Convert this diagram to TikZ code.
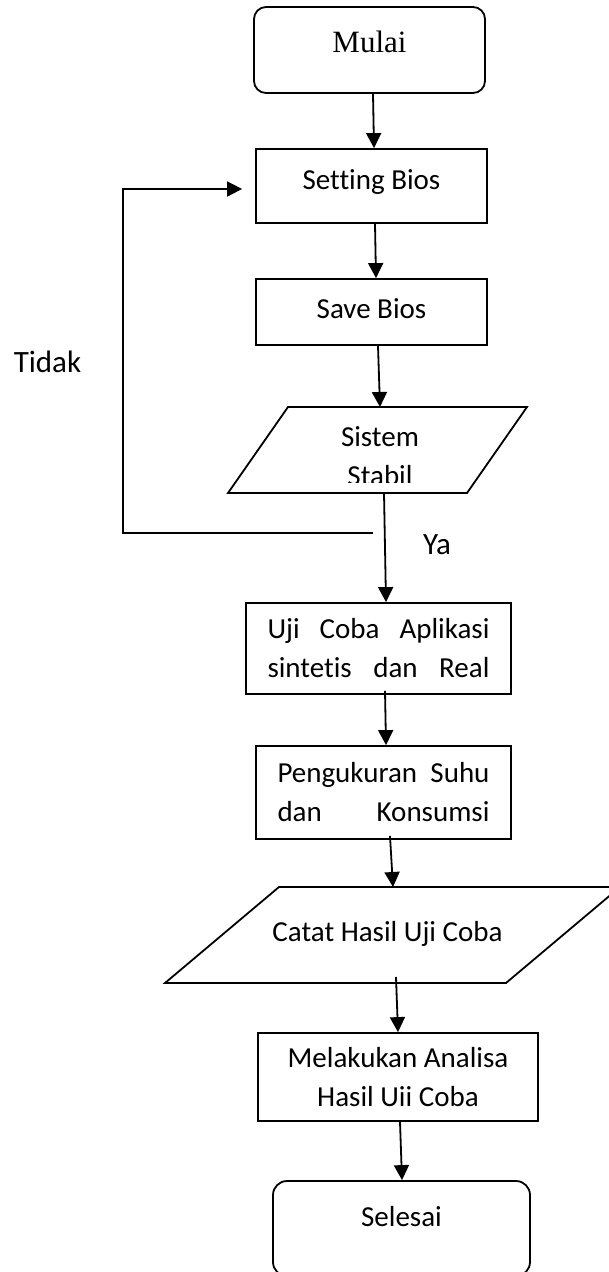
\documentclass[tikz,border=0pt]{standalone}
\usepackage{fontspec}
\setmainfont{Carlito}[Ligatures=NoCommon]
\newfontfamily\mulaifont{Liberation Serif}
\usetikzlibrary{calc,arrows.meta}

\begin{document}
\begin{tikzpicture}[x=1pt,y=-1pt,
    box/.style={draw, line width=1.8pt, inner sep=0pt, align=center, font=\fontsize{29}{39}\selectfont},
    flow/.style={line width=1.8pt, -{Triangle[length=15pt,width=15pt]}},
    edge/.style={line width=1.8pt},
    txt/.style={inner sep=0pt, align=center, font=\fontsize{29}{39}\selectfont},
    tag/.style={inner sep=0pt, font=\fontsize{31}{37}\selectfont}]
    \useasboundingbox (0,0) rectangle (609,1272);
    \clip (0,0) rectangle (609,1272);

    \node[box, rounded corners=12pt, minimum width=231pt, minimum height=86pt,
      label={[yshift=8pt, font=\mulaifont\fontsize{31}{37}\selectfont]center:Mulai}] (mulai) at (369.5,50) {};
    \node[box, minimum width=231pt, minimum height=74pt,
      label={[yshift=4pt, font=\fontsize{29}{39}\selectfont]center:Setting Bios}] (setting) at (371.5,186) {};
    \node[box, minimum width=231pt, minimum height=66pt,
      label={[yshift=3pt, font=\fontsize{29}{39}\selectfont]center:Save Bios}] (save) at (371.5,312) {};

    \coordinate (S1) at (288,407);
    \coordinate (S2) at (527,407);
    \coordinate (S3) at (467,493);
    \coordinate (S4) at (228,493);
    \coordinate (sistemtop) at (380,407);
    \coordinate (sistembot) at (384,493);
    \draw[edge] (S1) -- (S2) -- (S3) -- (S4) -- cycle;
    \begin{scope}
      \clip (228,407) rectangle (527,482);
      \node[txt] (sistem) at (380,456) {Sistem\\Stabil};
    \end{scope}

    \node[box, minimum width=265pt, minimum height=91pt] (uji) at (378.5,648.5)
      {\makebox[222pt][s]{Uji Coba Aplikasi}\\\makebox[222pt][s]{sintetis dan Real}};
    \node[box, minimum width=255pt, minimum height=93pt] (peng) at (383.5,792.5)
      {\makebox[212pt][s]{Pengukuran Suhu}\\\makebox[212pt][s]{dan Konsumsi}};

    \coordinate (C1) at (279,887);
    \coordinate (C2) at (620,887);
    \coordinate (C3) at (506,983);
    \coordinate (C4) at (165,983);
    \coordinate (catattop) at (393,887);
    \coordinate (catatbot) at (396,977);
    \draw[edge] (C1) -- (C2) -- (C3) -- (C4) -- cycle;
    \node[txt] (catat) at (387.5,934) {Catat Hasil Uji Coba};

    \node[box, minimum width=280pt, minimum height=88pt] (mel) at (398,1077)
      {Melakukan Analisa\\Hasil Uii Coba};
    \node[box, rounded corners=14pt, minimum width=257pt, minimum height=95pt,
      label={[yshift=11.5pt, font=\fontsize{29}{39}\selectfont]center:Selesai}] (sel) at (401.5,1228.5) {};

    \draw[flow] ($(mulai.south)+(3.5,0)$) -- ($(setting.north)+(2.5,0)$);
    \draw[flow] ($(setting.south)+(3.5,0)$) -- ($(save.north)+(4.5,0)$);
    \draw[flow] ($(save.south)+(6.5,0)$) -- (sistemtop);
    \draw[flow] (sistembot) -- ($(uji.north)+(7.5,0)$);
    \draw[flow] ($(uji.south)+(6.5,-4)$) -- ($(peng.north)+(2.5,0)$);
    \draw[flow] ($(peng.south)+(6.5,-4)$) -- (catattop);
    \draw[flow] (catatbot) -- (mel.north);
    \draw[flow] ($(mel.south)+(2,0)$) -- ($(sel.north)+(0.5,0)$);

    % jalur kembali
    \coordinate (back) at (373,533);
    \coordinate (loop) at (123,189);
    \coordinate (setin) at ($(setting.west)+(-13,3)$);
    \draw[flow] (back) -| (loop) -- (setin);

    \node[tag] (ya) at (437,545) {Ya};
    \node[tag] (tidak) at (47.5,362) {Tidak};
\end{tikzpicture}
\end{document}
